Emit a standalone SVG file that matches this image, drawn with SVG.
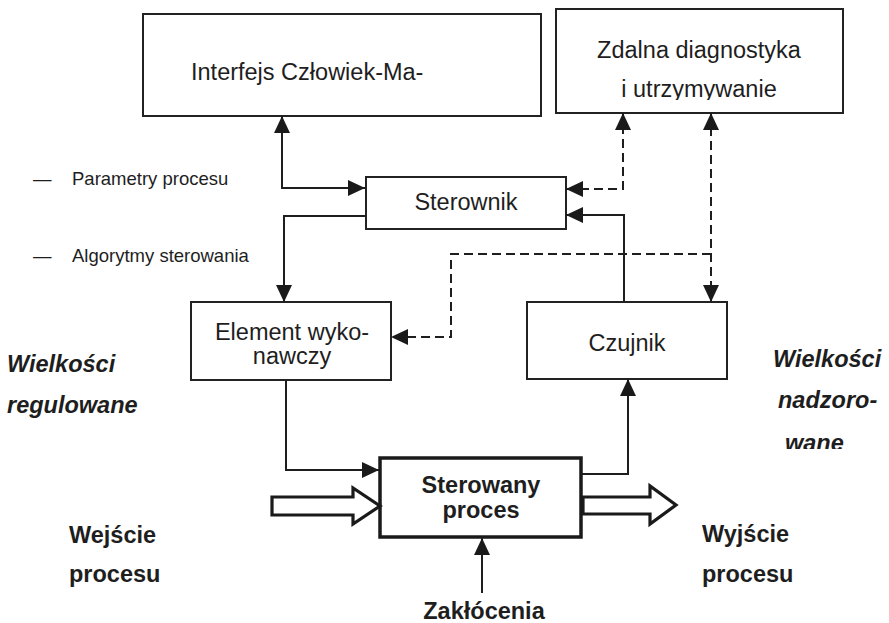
<svg xmlns="http://www.w3.org/2000/svg" width="889" height="623" viewBox="0 0 889 623">
  <style>
    .box { fill: #ffffff; stroke: #222222; stroke-width: 2; }
    .proc { fill: #ffffff; stroke: #1a1a1a; stroke-width: 3.5; }
    .lbl { font-family: "Liberation Sans", Arial, sans-serif; font-size: 23.5px; fill: #1e1e1e; }
    .mid { text-anchor: middle; }
    .small { font-family: "Liberation Sans", Arial, sans-serif; font-size: 18.5px; fill: #1e1e1e; }
    .b { font-weight: bold; }
    .bi { font-weight: bold; font-style: italic; }
    .wire { fill: none; stroke: #1e1e1e; stroke-width: 2; }
    .dash { fill: none; stroke: #1e1e1e; stroke-width: 2; stroke-dasharray: 9 5; }
    .hollow { fill: #ffffff; stroke: #1a1a1a; stroke-width: 3.2; stroke-linejoin: miter; }
  </style>
  <defs>
    <marker id="ah" markerUnits="userSpaceOnUse" markerWidth="17" markerHeight="16" refX="17" refY="8" orient="auto-start-reverse">
      <path d="M0,0 L17,8 L0,16 z" fill="#1a1a1a"/>
    </marker>
    <clipPath id="clipTop"><rect x="556" y="0" width="290" height="100"/></clipPath>
    <clipPath id="clipRight"><rect x="760" y="300" width="129" height="149"/></clipPath>
  </defs>

  <!-- side notes -->
  <g id="notes">
    <text class="small" x="33" y="185">—</text>
    <text class="small" x="72" y="185">Parametry procesu</text>
    <text class="small" x="33" y="262">—</text>
    <text class="small" x="72" y="262">Algorytmy sterowania</text>
  </g>

  <g id="hmi">
    <rect class="box" x="143" y="14" width="398" height="102"/>
    <text class="lbl" x="191" y="80">Interfejs Człowiek-Ma-</text>
  </g>

  <g id="diagnostics">
    <rect class="box" x="556" y="9" width="287" height="104"/>
    <g clip-path="url(#clipTop)">
      <text class="lbl mid" x="699" y="58">Zdalna diagnostyka</text>
      <text class="lbl mid" x="699" y="97">i utrzymywanie</text>
    </g>
  </g>

  <g id="controller">
    <rect class="box" x="366" y="177" width="200" height="52"/>
    <text class="lbl mid" x="466" y="210">Sterownik</text>
  </g>

  <g id="actuator">
    <rect class="box" x="191" y="302" width="200" height="78"/>
    <text class="lbl mid" x="292" y="340">Element wyko-</text>
    <text class="lbl mid" x="292" y="364">nawczy</text>
  </g>

  <g id="sensor">
    <rect class="box" x="527" y="302" width="200" height="77"/>
    <text class="lbl mid" x="627" y="351">Czujnik</text>
  </g>

  <g id="process">
    <rect class="proc" x="380" y="458" width="201" height="79"/>
    <text class="lbl mid b" x="481" y="493">Sterowany</text>
    <text class="lbl mid b" x="481" y="518">proces</text>
  </g>

  <g id="quantities">
    <text class="lbl bi" x="7" y="372">Wielkości</text>
    <text class="lbl bi" x="7" y="413">regulowane</text>
    <g clip-path="url(#clipRight)">
      <text class="lbl bi" x="773" y="367">Wielkości</text>
      <text class="lbl bi" x="778" y="408">nadzoro-</text>
      <text class="lbl bi" x="785" y="451">wane</text>
    </g>
  </g>

  <g id="io-labels">
    <text class="lbl b" x="69" y="543">Wejście</text>
    <text class="lbl b" x="69" y="582">procesu</text>
    <text class="lbl b" x="702" y="542">Wyjście</text>
    <text class="lbl b" x="702" y="582">procesu</text>
    <text class="lbl b mid" x="484" y="619">Zakłócenia</text>
  </g>

  <g id="connectors">
    <path class="wire" d="M282,116 L282,188 L365,188" marker-start="url(#ah)" marker-end="url(#ah)"/>
    <path class="wire" d="M366,216 L284,216 L284,302" marker-end="url(#ah)"/>
    <path class="dash" d="M566,189 L623,189 L623,113" marker-start="url(#ah)" marker-end="url(#ah)"/>
    <path class="wire" d="M624,302 L624,215 L566,215" marker-end="url(#ah)"/>
    <path class="dash" d="M711,113 L711,302" marker-start="url(#ah)" marker-end="url(#ah)"/>
    <path class="dash" d="M711,254 L451,254 L451,337 L391,337" marker-end="url(#ah)"/>
    <path class="wire" d="M286,380 L286,470 L379,470" marker-end="url(#ah)"/>
    <path class="wire" d="M581,474 L628,474 L628,379" marker-end="url(#ah)"/>
    <path class="wire" d="M482,593 L482,538" stroke-width="3.5" marker-end="url(#ah)"/>
    <polygon class="hollow" points="272,497 353,497 353,488 380,506 353,524 353,515 272,515"/>
    <polygon class="hollow" points="583,497 650,497 650,486 676,505 650,524 650,514 583,514"/>
  </g>
</svg>
